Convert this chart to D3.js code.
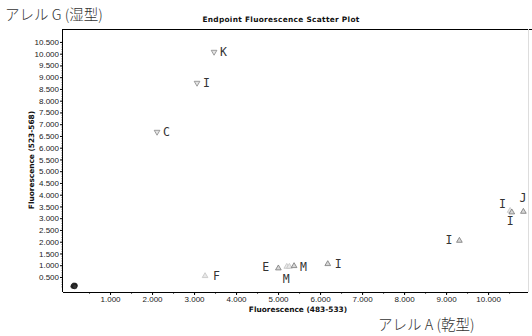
<!DOCTYPE html>
<html>
<head>
<meta charset="utf-8">
<script src="https://cdn.jsdelivr.net/npm/d3@7"></script>
<style>
  body { margin: 0; background: #fff; }
  svg { display: block; }
  .tick text { font-family: "Liberation Sans Narrow", "Liberation Sans", Arial, sans-serif; font-size: 8px; fill: #222; }
  .bold { font-family: "DejaVu Sans", Arial, sans-serif; font-weight: bold; font-size: 7.4px; fill: #111; }
  .pt-label { font-family: "DejaVu Sans Mono", "Liberation Mono", monospace; font-size: 11.5px; fill: #333; }
  .allele { font-family: "Noto Sans CJK JP", sans-serif; font-size: 14.5px; fill: #333; font-weight: 300; }
</style>
</head>
<body>
<div id="chart"></div>
<script>
"use strict"

// values (fluorescence units)
var xTicks = [1000, 2000, 3000, 4000, 5000, 6000, 7000, 8000, 9000, 10000]
var yTicks = [500, 1000, 1500, 2000, 2500, 3000, 3500, 4000, 4500, 5000,
              5500, 6000, 6500, 7000, 7500, 8000, 8500, 9000, 9500, 10000, 10500]

// no-template cluster near the origin
var ntcX = [120, 150, 170, 140, 160]
var ntcY = [100, 120, 140, 150, 90]

// allele G calls (down triangles)
var gX = [3476, 3071, 2119]
var gY = [10074, 8755, 6670]
var gLabel = ["K", "I", "C"]

// allele A calls (up triangles)
var aX = [3262, 5007, 5207, 5269, 5381, 6183, 9317, 10524, 10564, 10840]
var aY = [543, 870, 938, 938, 968, 1053, 2045, 3320, 3253, 3279]
var aShade = ["light", "dark", "light", "light", "dark", "dark", "dark", "light", "dark", "dark"]

// letters placed next to the A points: [text, x, y, dx, dy]
var aLabels = [
  ["F", 3262, 543, 8, 4],
  ["E", 5007, 870, -16, 3],
  ["M", 5207, 938, -4, 16],
  ["M", 5381, 968, 6, 5],
  ["I", 6183, 1053, 7, 4],
  ["I", 9317, 2045, -14, 3],
  ["I", 10524, 3320, -11, -3],
  ["I", 10564, 3253, -5, 13],
  ["J", 10840, 3279, -4, -10]
]

var width = 532
var height = 336
var margin = { top: 29, right: 4, bottom: 44, left: 63 }

var x = d3.scaleLinear().domain([-120, 10950]).range([margin.left, width - margin.right])
var y = d3.scaleLinear().domain([-140, 11050]).range([height - margin.bottom, margin.top])

var svg = d3.select("#chart").append("svg")
    .attr("width", width)
    .attr("height", height)

// frame: top line and faint right edge
svg.append("line")
    .attr("x1", margin.left).attr("x2", width)
    .attr("y1", margin.top + 0.5).attr("y2", margin.top + 0.5)
    .attr("stroke", "#000")
svg.append("line")
    .attr("x1", width - margin.right + 0.5).attr("x2", width - margin.right + 0.5)
    .attr("y1", margin.top).attr("y2", height - margin.bottom)
    .attr("stroke", "#ddd")

// minor ticks
var xMinor = d3.range(500, 10950, 500)
var yMinor = d3.range(100, 10600, 100)

svg.append("g")
    .attr("transform", "translate(0," + (height - margin.bottom) + ")")
    .call(d3.axisBottom(x).tickValues(xMinor).tickSize(2).tickFormat(""))
    .call(function(g) { g.select(".domain").remove() })
    .selectAll("line").attr("stroke", "#666")

svg.append("g")
    .attr("transform", "translate(" + margin.left + ",0)")
    .call(d3.axisLeft(y).tickValues(yMinor).tickSize(1.5).tickFormat(""))
    .call(function(g) { g.select(".domain").remove() })
    .selectAll("line").attr("stroke", "#666")

var fmt = function(d) { return d3.format(".3f")(d / 1000) }

svg.append("g")
    .attr("transform", "translate(0," + (height - margin.bottom) + ")")
    .call(d3.axisBottom(x).tickValues(xTicks).tickSize(3).tickPadding(1).tickFormat(fmt))
    .call(function(g) {
      g.select(".domain").attr("stroke", "#000").attr("d", "M" + margin.left + ",0.5H" + (width - margin.right))
    })

svg.append("g")
    .attr("transform", "translate(" + margin.left + ",0)")
    .call(d3.axisLeft(y).tickValues(yTicks).tickSize(3).tickPadding(1).tickFormat(fmt))
    .call(function(g) {
      g.select(".domain").attr("stroke", "#000").attr("d", "M-0.5," + margin.top + "V" + (height - margin.bottom))
    })

// titles
svg.append("text").attr("class", "bold")
    .attr("x", 281).attr("y", 22)
    .attr("text-anchor", "middle")
    .attr("letter-spacing", 0.3)
    .text("Endpoint Fluorescence Scatter Plot")

svg.append("text").attr("class", "bold")
    .attr("x", 298).attr("y", 312)
    .attr("text-anchor", "middle")
    .text("Fluorescence (483-533)")

svg.append("text").attr("class", "bold")
    .attr("transform", "translate(34,160) rotate(-90)")
    .attr("text-anchor", "middle")
    .text("Fluorescence (523-568)")

svg.append("text").attr("class", "allele")
    .attr("x", 5).attr("y", 20)
    .text("アレル G (湿型)")

svg.append("text").attr("class", "allele")
    .attr("x", 378).attr("y", 330)
    .text("アレル A (乾型)")

// markers
var tri = d3.symbol().type(d3.symbolTriangle).size(14)

svg.append("g").selectAll("path.ntc")
    .data(d3.range(ntcX.length))
    .join("path")
    .attr("class", "ntc")
    .attr("transform", function(i) { return "translate(" + x(ntcX[i]) + "," + y(ntcY[i]) + ")" })
    .attr("d", d3.symbol().type(d3.symbolCircle).size(16))
    .attr("fill", "#333")
    .attr("stroke", "#111")
    .attr("stroke-width", 0.6)

svg.append("g").selectAll("path.g")
    .data(d3.range(gX.length))
    .join("path")
    .attr("class", "g")
    .attr("transform", function(i) { return "translate(" + x(gX[i]) + "," + y(gY[i]) + ") rotate(180)" })
    .attr("d", tri)
    .attr("fill", "#e4e4e4")
    .attr("stroke", "#888")
    .attr("stroke-width", 0.8)

svg.append("g").selectAll("text")
    .data(d3.range(gX.length))
    .join("text")
    .attr("class", "pt-label")
    .attr("x", function(i) { return x(gX[i]) + 6 })
    .attr("y", function(i) { return y(gY[i]) + 4 })
    .text(function(i) { return gLabel[i] })

svg.append("g").selectAll("path.a")
    .data(d3.range(aX.length))
    .join("path")
    .attr("class", "a")
    .attr("transform", function(i) { return "translate(" + x(aX[i]) + "," + y(aY[i]) + ")" })
    .attr("d", tri)
    .attr("fill", function(i) { return aShade[i] == "dark" ? "#d8d8d8" : "#e8e8e8" })
    .attr("stroke", function(i) { return aShade[i] == "dark" ? "#777" : "#c4c4c4" })
    .attr("stroke-width", 0.8)

svg.append("g").selectAll("text")
    .data(aLabels)
    .join("text")
    .attr("class", "pt-label")
    .attr("x", function(d) { return x(d[1]) + d[3] })
    .attr("y", function(d) { return y(d[2]) + d[4] })
    .text(function(d) { return d[0] })
</script>
</body>
</html>
